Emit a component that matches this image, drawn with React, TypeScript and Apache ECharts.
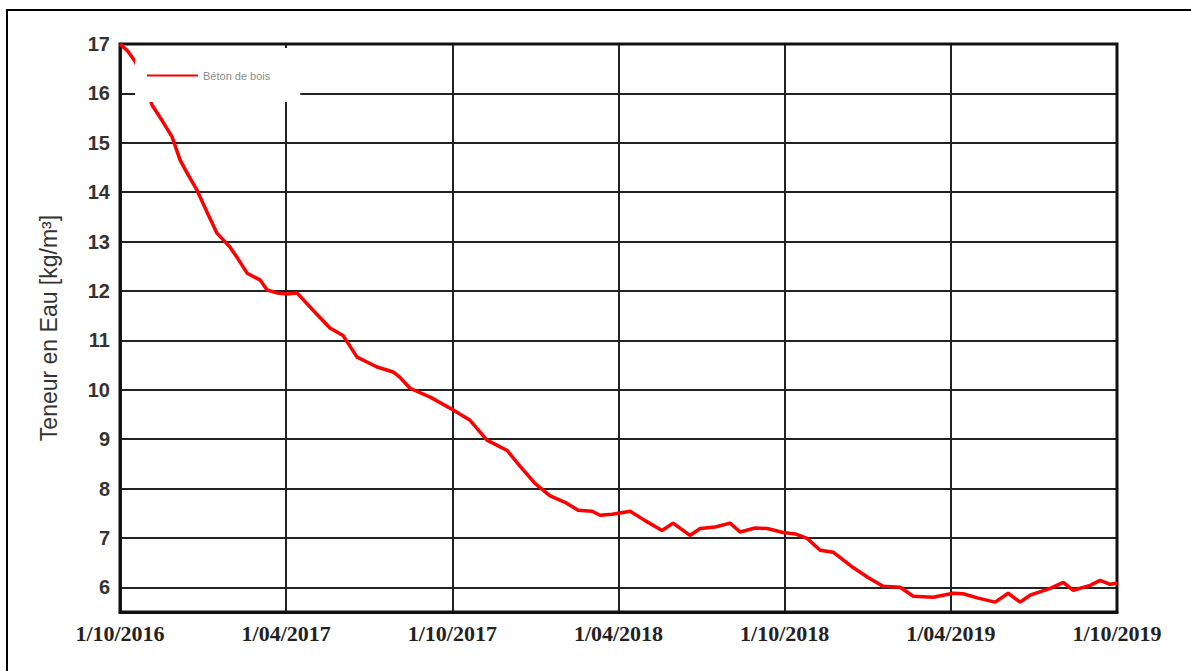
import React, { useEffect, useRef } from "react";
import * as echarts from "echarts";

// x = months since 1/10/2016, y = water content [kg/m³]
const months: number[] = [
  0, 0.29, 0.54, 0.83, 1.16, 1.52, 1.88, 2.17, 2.46, 2.78, 3.14, 3.5, 3.97, 4.26, 4.59, 5.06, 5.31, 5.67,
  6.03, 6.39, 6.97, 7.58, 8.05, 8.56, 9.28, 9.86, 10.11, 10.47, 11.2, 12.03, 12.64, 13.25, 13.98, 14.45,
  14.99, 15.53, 16.07, 16.54, 17.05, 17.33, 17.77, 18.42, 18.96, 19.57, 19.97, 20.58, 20.95, 21.49, 22.03,
  22.39, 22.93, 23.37, 23.94, 24.38, 24.81, 25.28, 25.75, 26.47, 27.01, 27.55, 28.17, 28.64, 29.36, 30.08,
  30.44, 30.99, 31.6, 32.07, 32.5, 32.86, 33.59, 34.06, 34.42, 35.03, 35.39, 35.75, 36.0,
];
const waterContent: number[] = [
  17.0, 16.85, 16.65, 16.3, 15.76, 15.45, 15.12, 14.65, 14.35, 14.04, 13.6, 13.17, 12.89, 12.65, 12.36,
  12.22, 12.02, 11.96, 11.94, 11.96, 11.61, 11.25, 11.1, 10.66, 10.46, 10.36, 10.25, 10.03, 9.85, 9.59,
  9.38, 8.98, 8.77, 8.45, 8.1, 7.85, 7.72, 7.56, 7.54, 7.46, 7.48, 7.54, 7.35, 7.15, 7.3, 7.05, 7.19, 7.22,
  7.3, 7.12, 7.2, 7.19, 7.11, 7.08, 6.99, 6.75, 6.71, 6.4, 6.2, 6.02, 6.0, 5.82, 5.8, 5.88, 5.87, 5.78,
  5.7, 5.88, 5.7, 5.84, 5.98, 6.1, 5.94, 6.04, 6.14, 6.06, 6.08,
];
const xTickLabels: string[] = [
  "1/10/2016", "1/04/2017", "1/10/2017", "1/04/2018", "1/10/2018", "1/04/2019", "1/10/2019",
];
const seriesName = "Béton de bois";
const yAxisName = "Teneur en Eau [kg/m³]";

export default function App() {
  const ref = useRef<HTMLDivElement>(null);
  useEffect(() => {
    if (!ref.current) return;
    const chart = echarts.init(ref.current, undefined, { renderer: "svg" });
    const data = months.map((m, i) => [m, waterContent[i]]);
    chart.setOption({
      animation: false,
      backgroundColor: "#ffffff",
      graphic: [
        {
          type: "rect",
          shape: { x: 7, y: 10, width: 1400, height: 900 },
          style: { fill: "none", stroke: "#000", lineWidth: 2 },
          silent: true,
          z: 100,
        },
      ],
      grid: {
        left: 120,
        right: 74,
        top: 44,
        bottom: 59,
        show: true,
        borderColor: "#111",
        borderWidth: 3,
        backgroundColor: "transparent",
        z: 3,
      },
      legend: {
        left: 135,
        top: 48,
        orient: "horizontal",
        backgroundColor: "#ffffff",
        padding: [22, 30, 21, 12],
        itemWidth: 51,
        itemHeight: 14,
        itemGap: 10,
        textStyle: { fontSize: 11, color: "#8a8a8a", fontFamily: "Liberation Sans" },
        data: [{ name: seriesName, icon: "path://M0,6 L51,6 L51,8 L0,8 Z" }],
        z: 10,
      },
      xAxis: {
        type: "value",
        min: 0,
        max: 36,
        interval: 6,
        axisLine: { show: true, lineStyle: { color: "#111", width: 3 } },
        axisTick: { show: false },
        splitLine: { show: true, lineStyle: { color: "#222", width: 2 } },
        axisLabel: {
          margin: 10,
          fontFamily: "Liberation Serif",
          fontWeight: "bold",
          fontSize: 22,
          color: "#222",
          formatter: (v: number) => xTickLabels[Math.round(v / 6)] ?? "",
        },
      },
      yAxis: {
        type: "value",
        min: 5.5,
        max: 17,
        splitNumber: 12,
        minInterval: 1,
        name: yAxisName,
        nameLocation: "middle",
        nameGap: 60,
        nameTextStyle: { fontFamily: "Liberation Sans", fontSize: 23, color: "#333" },
        axisLine: { show: true, lineStyle: { color: "#222", width: 3 } },
        axisTick: { show: false },
        splitLine: { show: true, lineStyle: { color: "#222", width: 2 } },
        axisLabel: {
          margin: 10,
          fontFamily: "Liberation Sans",
          fontWeight: "bold",
          fontSize: 20,
          color: "#333",
          formatter: (v: number) => (Math.abs(v - Math.round(v)) < 1e-6 ? String(Math.round(v)) : ""),
        },
      },
      series: [
        {
          name: seriesName,
          type: "line",
          data,
          symbol: "none",
          lineStyle: { color: "#ff0000", width: 3.5 },
          itemStyle: { color: "#ff0000" },
          z: 5,
        },
      ],
    });
    return () => chart.dispose();
  }, []);
  return (
    <div
      ref={ref}
      style={{ position: "fixed", left: 0, top: 0, width: 1191, height: 671 }}
    />
  );
}
